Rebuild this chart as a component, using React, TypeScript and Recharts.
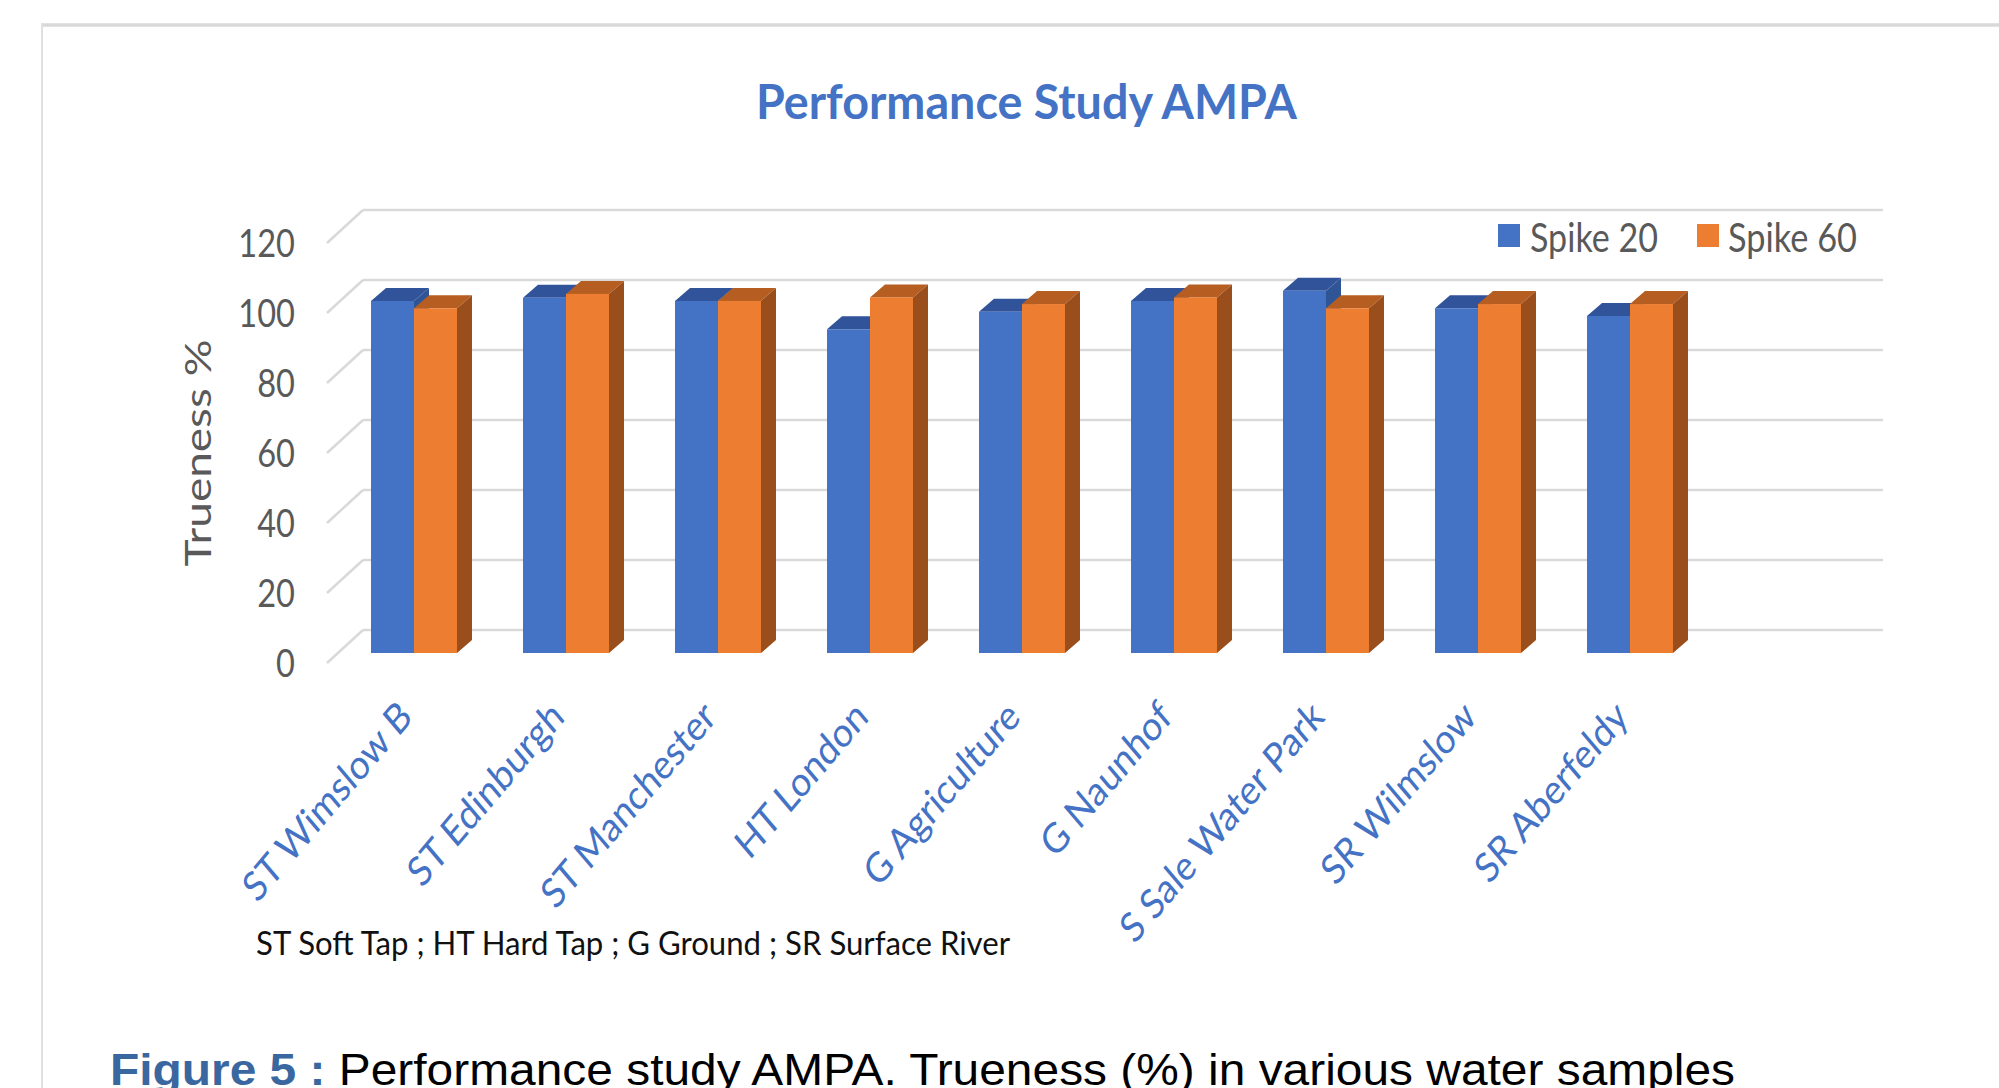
import React from 'react';
import { BarChart, Bar, XAxis, YAxis, CartesianGrid } from 'recharts';

const categories = [
  'ST Wimslow B',
  'ST Edinburgh',
  'ST Manchester',
  'HT London',
  'G Agriculture',
  'G Naunhof',
  'S Sale Water Park',
  'SR Wilmslow',
  'SR Aberfeldy',
];
const spike20 = [100.6, 101.5, 100.6, 92.5, 97.5, 100.6, 103.5, 98.5, 96.3];
const spike60 = [98.5, 102.6, 100.6, 101.6, 99.7, 101.6, 98.5, 99.7, 99.7];
const yTicks = [0, 20, 40, 60, 80, 100, 120];
const seriesNames = ['Spike 20', 'Spike 60'];
const seriesKeys = ['s20', 's60'];
const seriesColors = ['#4472C4', '#ED7D31'];
const seriesTopColors = ['#30539A', '#B65E21'];
const seriesSideColors = ['#2F5597', '#9A4E1C'];

const data = categories.map((name, i) => ({ name, s20: spike20[i], s60: spike60[i] }));

const DX = 15;
const DY = 13;
const GRID = '#D9D9D9';
const FONT = 'Lato, "Open Sans", sans-serif';

function Box3D(props: any) {
  const { x, y, width, height, fill, topFill, sideFill } = props;
  if (x == null || y == null || !width || height == null) return null;
  return (
    <g>
      <polygon
        points={`${x},${y} ${x + width},${y} ${x + width + DX},${y - DY} ${x + DX},${y - DY}`}
        fill={topFill}
      />
      <polygon
        points={`${x + width},${y} ${x + width + DX},${y - DY} ${x + width + DX},${y + height - DY} ${x + width},${y + height}`}
        fill={sideFill}
      />
      <rect x={x} y={y} width={width} height={height} fill={fill} />
    </g>
  );
}

function gridLine(props: any) {
  const { x1, x2, y1, index } = props;
  const yb = y1 - 23;
  return (
    <g key={`gl-${index}-${y1}`}>
      <line x1={x1 + 25} y1={yb} x2={x2 + 25} y2={yb} stroke={GRID} strokeWidth={2.5} />
      <line x1={x1 - 11} y1={y1 + 10} x2={x1 + 25} y2={yb} stroke={GRID} strokeWidth={2.5} />
    </g>
  );
}

function YTick(props: any) {
  const { y, payload } = props;
  return (
    <g transform={`translate(295, ${y + 10}) scale(0.88, 1.05)`}>
      <text x={0} y={0} dy="0.36em" textAnchor="end" fill="#595959" fontSize={37} fontFamily={FONT}>
        {payload.value}
      </text>
    </g>
  );
}

function XTick(props: any) {
  const { x, payload } = props;
  return (
    <text
      transform={`translate(${x}, 719) scale(1, 1.18) rotate(-45)`}
      x={0}
      y={0}
      textAnchor="end"
      fill="#4472C4"
      fontSize={35}
      fontFamily={FONT}
    >
      {payload.value}
    </text>
  );
}

export default function App() {
  return (
    <div style={{ position: 'absolute', left: 0, top: 0, width: 1999, height: 1088, background: '#fff', overflow: 'hidden' }}>
      <BarChart
        width={1999}
        height={1088}
        data={data}
        margin={{ top: 233, right: 141, bottom: 335, left: 238 }}
        barGap={0}
        barSize={43}
      >
        <CartesianGrid vertical={false} horizontal={gridLine} />
        <XAxis
          dataKey="name"
          interval={0}
          tick={XTick}
          tickLine={false}
          axisLine={false}
          height={100}
          padding={{ left: 0, right: 152 }}
        />
        <YAxis
          domain={[0, 120]}
          ticks={yTicks}
          width={100}
          tick={YTick}
          tickLine={false}
          axisLine={false}
          interval={0}
        />
        {seriesKeys.map((k, i) => (
          <Bar
            key={k}
            dataKey={k}
            name={seriesNames[i]}
            fill={seriesColors[i]}
            isAnimationActive={false}
            shape={(p: any) => <Box3D {...p} topFill={seriesTopColors[i]} sideFill={seriesSideColors[i]} />}
          />
        ))}
      </BarChart>
      <svg
        width={1999}
        height={1088}
        style={{ position: 'absolute', left: 0, top: 0, pointerEvents: 'none' }}
      >
        <line x1={41} y1={25} x2={1999} y2={25} stroke="#D9D9D9" strokeWidth={3.5} />
        <line x1={42} y1={24} x2={42} y2={1088} stroke="#E0E0E0" strokeWidth={2} />
        <text
          x={756}
          y={119}
          fontSize={48}
          fontWeight={700}
          fill="#4472C4"
          fontFamily={FONT}
          textLength={541}
          lengthAdjust="spacingAndGlyphs"
        >
          Performance Study AMPA
        </text>
        <text
          transform="translate(211, 453) rotate(-90)"
          textAnchor="middle"
          fontSize={37}
          fill="#595959"
          fontFamily={FONT}
          textLength={227}
          lengthAdjust="spacingAndGlyphs"
        >
          Trueness %
        </text>
        {seriesNames.map((n, i) => {
          const sx = [1498, 1697][i];
          const tx = [1530, 1728][i];
          const tw = [128, 129][i];
          return (
            <g key={n}>
              <rect x={sx} y={224} width={22} height={23} fill={seriesColors[i]} />
              <text
                x={tx}
                y={252}
                fontSize={40}
                fill="#595959"
                fontFamily={FONT}
                textLength={tw}
                lengthAdjust="spacingAndGlyphs"
              >
                {n}
              </text>
            </g>
          );
        })}
        <text
          x={256}
          y={955}
          fontSize={32}
          fill="#111"
          fontFamily={FONT}
          textLength={754}
          lengthAdjust="spacingAndGlyphs"
        >
          ST Soft Tap ; HT Hard Tap ; G Ground ; SR Surface River
        </text>
        <text
          x={110}
          y={1085}
          fontSize={44}
          fontFamily='"Liberation Sans", Arial, sans-serif'
          textLength={1625}
          lengthAdjust="spacingAndGlyphs"
        >
          <tspan fill="#3A67A0" fontWeight={700}>Figure 5 : </tspan>
          <tspan fill="#000">Performance study AMPA. Trueness (%) in various water samples</tspan>
        </text>
      </svg>
    </div>
  );
}
